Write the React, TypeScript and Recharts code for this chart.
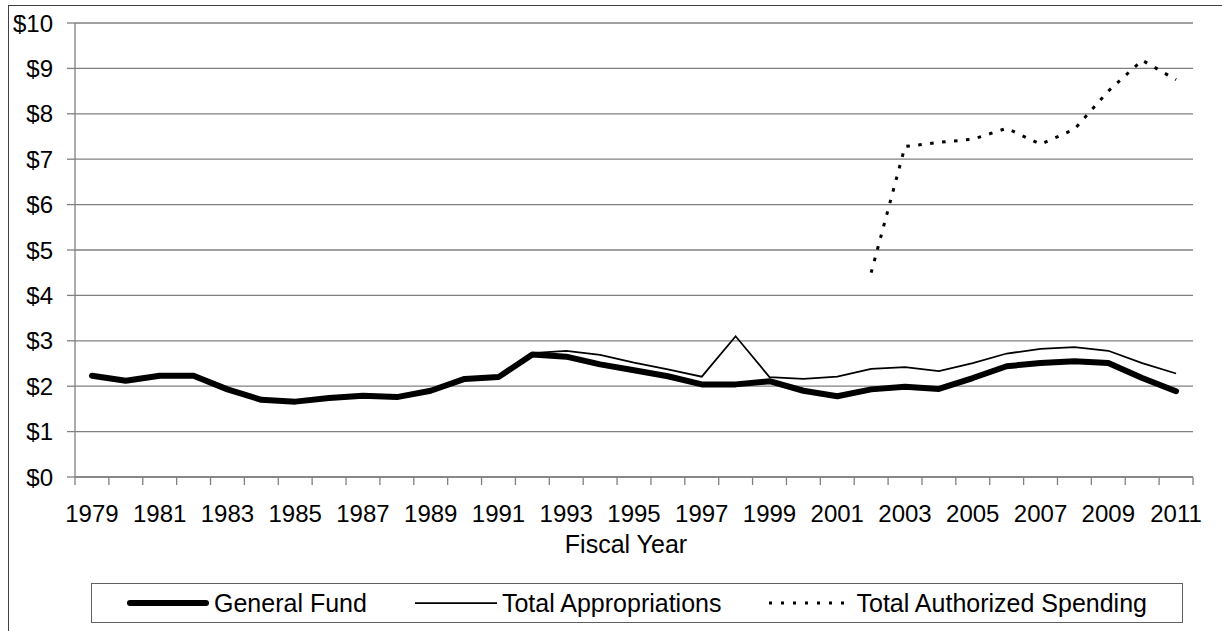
import { CartesianGrid, Label, Legend, Line, LineChart, XAxis, YAxis } from "recharts"

// Fiscal years shown on the chart
const years = [
  1979, 1980, 1981, 1982, 1983, 1984, 1985, 1986, 1987, 1988, 1989, 1990, 1991, 1992, 1993, 1994, 1995,
  1996, 1997, 1998, 1999, 2000, 2001, 2002, 2003, 2004, 2005, 2006, 2007, 2008, 2009, 2010, 2011,
]

const generalFund = [
  2.23, 2.12, 2.23, 2.23, 1.93, 1.7, 1.66, 1.74, 1.79, 1.76, 1.9, 2.16, 2.2, 2.7, 2.65, 2.48, 2.35,
  2.22, 2.04, 2.04, 2.11, 1.9, 1.78, 1.93, 1.99, 1.94, 2.18, 2.44, 2.51, 2.55, 2.51, 2.18, 1.89,
]

const totalAppropriations = [
  2.23, 2.12, 2.23, 2.23, 1.93, 1.7, 1.66, 1.74, 1.79, 1.76, 1.9, 2.16, 2.2, 2.73, 2.78, 2.69, 2.52,
  2.37, 2.21, 3.1, 2.2, 2.16, 2.21, 2.38, 2.42, 2.33, 2.51, 2.72, 2.82, 2.86, 2.78, 2.51, 2.28,
]

const totalAuthorized: (number | null)[] = [
  null, null, null, null, null, null, null, null, null, null, null, null, null, null, null, null, null,
  null, null, null, null, null, null, 4.5, 7.28, 7.37, 7.44, 7.68, 7.33, 7.66, 8.5, 9.18, 8.75,
]

const yearLabels = [
  1979, 1981, 1983, 1985, 1987, 1989, 1991, 1993, 1995, 1997, 1999, 2001, 2003, 2005, 2007, 2009, 2011,
]

const dollarTicks = [0, 1, 2, 3, 4, 5, 6, 7, 8, 9, 10]

const data = years.map((year, i) => ({
  year,
  generalFund: generalFund[i],
  totalAppropriations: totalAppropriations[i],
  totalAuthorized: totalAuthorized[i],
}))

// tick marks sit between the categories, like the original
const boundaries = [...years.map((y) => y - 0.5), years[years.length - 1] + 0.5]
const domain: [number, number] = [boundaries[0], boundaries[boundaries.length - 1]]

const font = "'Liberation Sans', Arial, sans-serif"
const gray = "#808080"

const legendItems = [
  { name: "General Fund", width: 6, dash: undefined },
  { name: "Total Appropriations", width: 1.75, dash: undefined },
  { name: "Total Authorized Spending", width: 3, dash: "3 9" },
]

function ChartLegend() {
  return (
    <div
      style={{
        boxSizing: "border-box",
        height: 40,
        border: "1.5px solid #606060",
        display: "flex",
        alignItems: "center",
        justifyContent: "center",
        gap: 48,
        fontFamily: font,
        fontSize: 25,
        color: "#000",
      }}
    >
      {legendItems.map((item) => (
        <div key={item.name} style={{ display: "flex", alignItems: "center", gap: 5 }}>
          <svg width={82} height={10}>
            <line
              x1={item.width > 4 ? 3 : 0}
              y1={5}
              x2={item.width > 4 ? 79 : 82}
              y2={5}
              stroke="#000"
              strokeWidth={item.width}
              strokeDasharray={item.dash}
              strokeLinecap={item.width > 4 ? "round" : "butt"}
            />
          </svg>
          <span>{item.name}</span>
        </div>
      ))}
    </div>
  )
}

export default function App() {
  return (
    <div
      style={{
        position: "absolute",
        left: 0,
        top: 0,
        width: 1222,
        height: 631,
        overflow: "hidden",
        background: "#fff",
      }}
    >
      <div
        style={{
          position: "absolute",
          left: 8,
          top: 5,
          width: 1300,
          height: 700,
          border: "1.5px solid #404040",
        }}
      />
      <LineChart width={1222} height={631} data={data} margin={{ top: 23, right: 29, left: 0, bottom: 8 }}>
        <CartesianGrid xAxisId="axis1" vertical={false} stroke={gray} strokeWidth={1.3} />
        <XAxis
          xAxisId="axis1"
          type="number"
          dataKey="year"
          domain={domain}
          ticks={boundaries}
          tickFormatter={() => ""}
          tickSize={8}
          height={8}
          stroke={gray}
          strokeWidth={1.3}
        />
        <XAxis
          xAxisId="axis2"
          type="number"
          dataKey="year"
          domain={domain}
          ticks={yearLabels}
          interval={0}
          tickLine={false}
          axisLine={false}
          tickSize={0}
          tickMargin={20}
          height={98}
          tick={{ fill: "#000", fontSize: 24, fontFamily: font }}
        >
          <Label
            value="Fiscal Year"
            position="insideBottom"
            offset={30}
            dx={-8}
            style={{ fill: "#000", fontSize: 25, fontFamily: font }}
          />
        </XAxis>
        <YAxis
          type="number"
          domain={[0, 10]}
          ticks={dollarTicks}
          interval={0}
          width={75}
          tickSize={8}
          tickMargin={14}
          stroke={gray}
          strokeWidth={1.3}
          tickFormatter={(v) => `$${v}`}
          tick={{ fill: "#000", fontSize: 24, fontFamily: font }}
        />
        <Legend verticalAlign="bottom" content={<ChartLegend />} wrapperStyle={{ left: 91, width: 1092, bottom: 8 }} />
        <Line
          xAxisId="axis1"
          dataKey="totalAuthorized"
          name="Total Authorized Spending"
          stroke="#000"
          strokeWidth={3}
          strokeDasharray="3.5 8.5"
          dot={false}
          isAnimationActive={false}
        />
        <Line
          xAxisId="axis1"
          dataKey="totalAppropriations"
          name="Total Appropriations"
          stroke="#000"
          strokeWidth={1.75}
          dot={false}
          isAnimationActive={false}
        />
        <Line
          xAxisId="axis1"
          dataKey="generalFund"
          name="General Fund"
          stroke="#000"
          strokeWidth={6}
          strokeLinejoin="round"
          strokeLinecap="round"
          dot={false}
          isAnimationActive={false}
        />
      </LineChart>
    </div>
  )
}
